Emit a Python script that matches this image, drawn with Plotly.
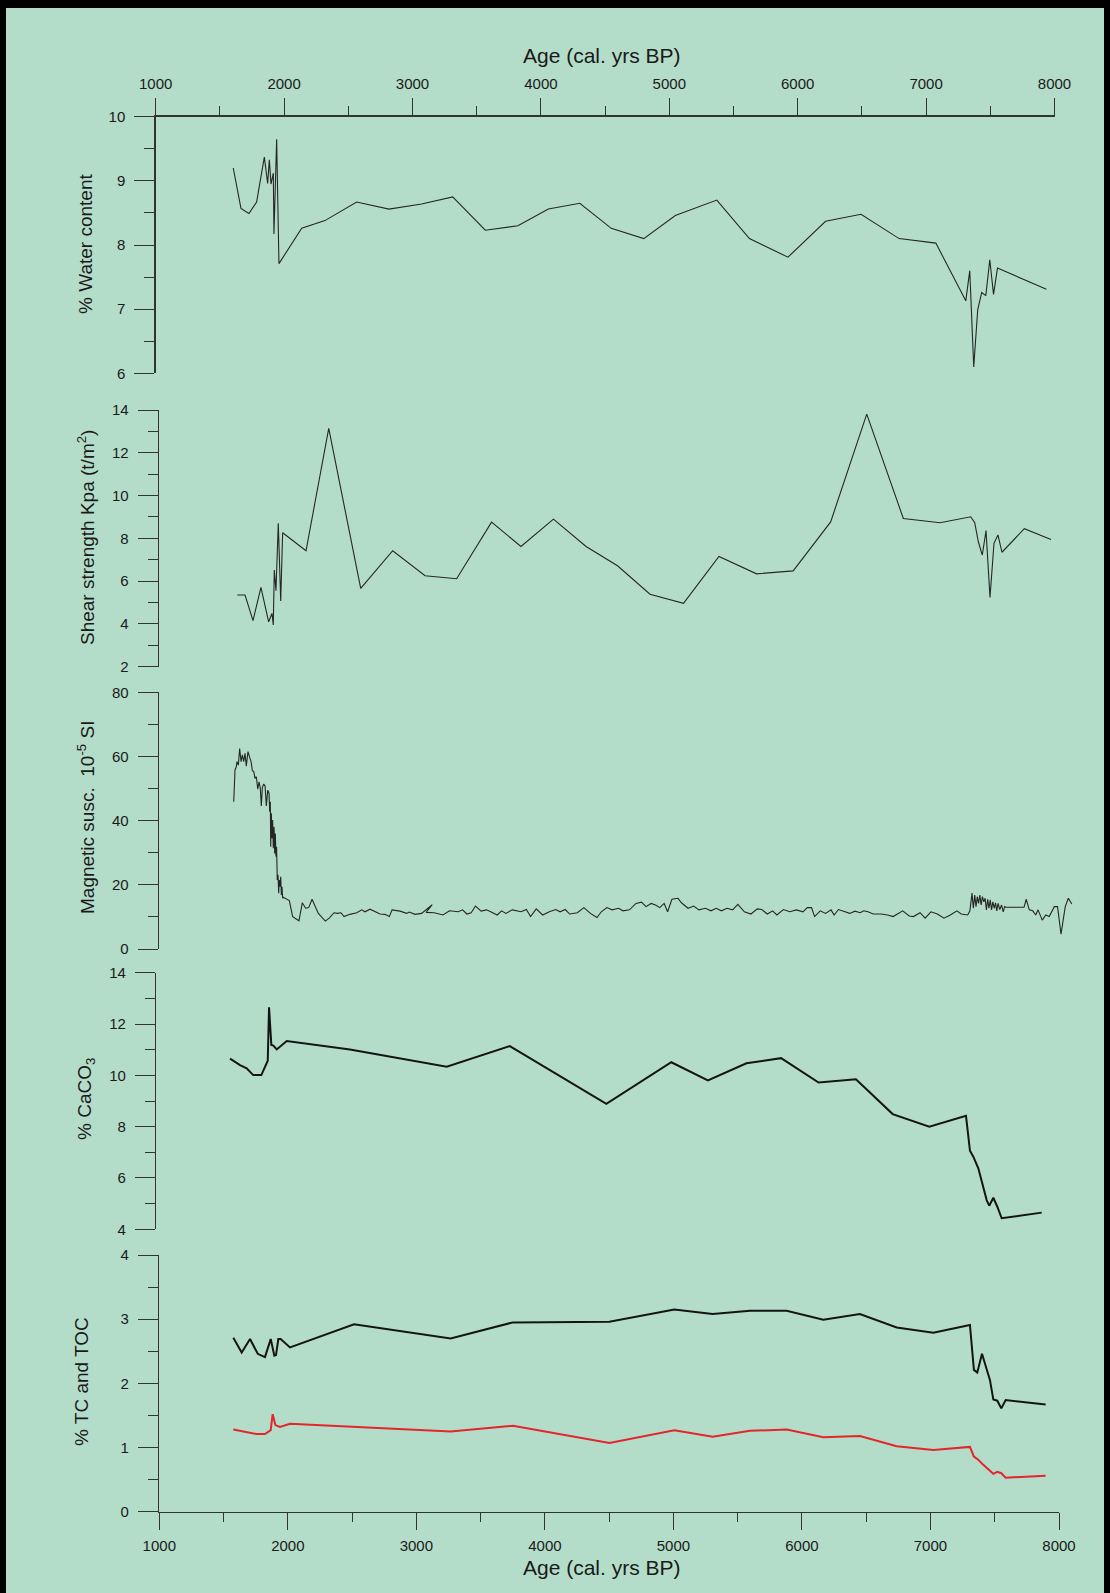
import plotly.graph_objects as go

# ---------------- data ----------------
water_age = [1604, 1664, 1726, 1786, 1846, 1872, 1885, 1898, 1916, 1921, 1942, 1960,
             2137, 2318, 2565, 2817, 3071, 3313, 3567, 3821, 4058, 4303, 4548, 4801,
             5047, 5370, 5624, 5924, 6217, 6493, 6790, 7076, 7309, 7340, 7371, 7402,
             7433, 7465, 7496, 7525, 7556, 7937]
water_pct = [9.20, 8.57, 8.49, 8.67, 9.37, 8.96, 9.33, 8.95, 9.12, 8.17, 9.65, 7.71,
             8.26, 8.38, 8.67, 8.56, 8.64, 8.75, 8.23, 8.30, 8.56, 8.65, 8.26, 8.10,
             8.46, 8.70, 8.10, 7.81, 8.37, 8.48, 8.10, 8.03, 7.13, 7.60, 6.10, 6.99,
             7.26, 7.21, 7.77, 7.23, 7.64, 7.31]

shear_age = [1610, 1670, 1732, 1794, 1854, 1880, 1890, 1898, 1911, 1929, 1948, 1963,
             2145, 2322, 2571, 2820, 3072, 3318, 3590, 3819, 4072, 4326, 4571, 4824,
             5085, 5361, 5654, 5939, 6231, 6512, 6797, 7083, 7322, 7353, 7381, 7412,
             7441, 7472, 7503, 7534, 7565, 7739, 7947]
shear_kpa = [5.35, 5.35, 4.15, 5.71, 4.10, 4.49, 3.95, 6.52, 5.55, 8.70, 5.07, 8.26,
             7.42, 13.14, 5.66, 7.42, 6.25, 6.11, 8.76, 7.62, 8.90, 7.62, 6.72, 5.39,
             4.96, 7.15, 6.34, 6.48, 8.77, 13.81, 8.93, 8.73, 9.01, 8.73, 7.84, 7.22,
             8.36, 5.24, 7.77, 8.16, 7.35, 8.45, 7.95]

magsus_age = [1582, 1592, 1602, 1607, 1618, 1628, 1639, 1649, 1660, 1670, 1680, 1693,
              1706, 1717, 1727, 1738, 1748, 1758, 1769, 1779, 1789, 1797, 1805, 1816,
              1826, 1836, 1847, 1857, 1862, 1867, 1870, 1875, 1880, 1885, 1890, 1896,
              1901, 1906, 1911, 1916, 1921, 1927, 1932, 1937, 1942, 1948, 1953, 1958,
              1963, 1968, 2015, 2041, 2090, 2116, 2142, 2166, 2192, 2241, 2295, 2326,
              2363, 2389, 2417, 2441, 2487, 2540, 2579, 2604, 2643, 2682, 2721, 2760,
              2794, 2815, 2877, 2929, 2949, 2994, 3045, 3128, 3080, 3144, 3212, 3262,
              3330, 3364, 3398, 3431, 3465, 3509, 3550, 3583, 3634, 3668, 3702, 3752,
              3820, 3861, 3894, 3938, 3988, 4040, 4090, 4124, 4164, 4198, 4258, 4309,
              4360, 4411, 4445, 4488, 4529, 4579, 4614, 4664, 4715, 4758, 4793, 4833,
              4867, 4900, 4934, 4961, 4995, 5042, 5069, 5120, 5164, 5205, 5255, 5299,
              5339, 5380, 5424, 5468, 5508, 5559, 5610, 5660, 5694, 5738, 5779, 5812,
              5863, 5913, 5964, 6015, 6049, 6082, 6106, 6150, 6191, 6234, 6258, 6292,
              6336, 6380, 6420, 6461, 6488, 6522, 6562, 6623, 6674, 6717, 6751, 6792,
              6843, 6876, 6927, 6967, 7012, 7062, 7113, 7163, 7214, 7248, 7298, 7315,
              7332, 7342, 7353, 7363, 7373, 7383, 7393, 7403, 7413, 7424, 7434, 7444,
              7454, 7464, 7474, 7484, 7494, 7505, 7515, 7525, 7535, 7548, 7562, 7575,
              7586, 7596, 7737, 7754, 7778, 7805, 7828, 7846, 7879, 7906, 7933, 7973,
              7998, 8025, 8058, 8082, 8109]
magsus_si = [45.9, 55.8, 56.8, 58.4, 57.3, 62.5, 58.4, 60.5, 58.4, 61.0, 57.0, 61.5,
             59.7, 58.4, 55.6, 55.3, 53.2, 53.7, 49.8, 52.1, 50.1, 44.6, 50.4, 51.4,
             50.8, 44.6, 49.5, 48.5, 42.8, 45.9, 31.9, 42.3, 34.5, 40.2, 31.4, 38.1,
             29.8, 36.0, 28.8, 31.9, 21.5, 23.1, 17.4, 21.5, 19.4, 22.5, 16.8, 19.4,
             15.8, 16.1, 15.1, 10.1, 8.8, 14.4, 12.7, 12.9, 15.5, 11.1, 8.7, 9.6,
             11.3, 11.1, 11.3, 10.1, 10.8, 11.3, 12.2, 11.6, 12.4, 11.6, 10.9, 10.8,
             10.1, 12.2, 11.8, 11.1, 11.5, 10.8, 11.1, 13.8, 11.4, 11.3, 10.6, 11.9,
             11.6, 12.2, 10.9, 11.3, 13.4, 11.8, 12.2, 11.6, 10.6, 11.9, 11.1, 12.2,
             11.6, 12.3, 10.1, 12.5, 10.6, 11.6, 12.3, 11.6, 12.3, 10.9, 11.3, 12.9,
             11.1, 9.8, 11.6, 12.9, 12.2, 12.7, 11.9, 12.2, 14.2, 14.6, 13.2, 14.2,
             13.7, 12.9, 14.2, 11.6, 15.5, 15.8, 14.4, 12.7, 13.4, 12.2, 12.7, 11.9,
             12.7, 11.9, 12.7, 12.2, 13.9, 11.6, 10.9, 12.5, 12.3, 10.9, 11.9, 10.6,
             12.3, 11.6, 12.2, 11.6, 12.9, 12.9, 10.1, 11.9, 11.1, 12.2, 10.6, 12.3,
             11.6, 11.1, 11.8, 11.3, 11.9, 11.6, 10.9, 10.9, 10.6, 10.1, 10.9, 11.9,
             10.3, 10.1, 11.3, 9.6, 11.6, 10.9, 9.6, 10.6, 11.9, 10.9, 10.6, 11.8,
             17.4, 12.7, 16.8, 13.2, 16.3, 14.2, 16.8, 13.7, 16.3, 14.7, 15.8, 12.2,
             15.5, 12.7, 15.3, 12.2, 14.7, 12.7, 14.4, 11.9, 14.2, 12.3, 13.7, 11.6,
             13.2, 13.0, 13.0, 15.5, 12.2, 11.9, 10.6, 12.2, 9.0, 10.6, 10.1, 13.2,
             13.2, 4.6, 13.2, 15.8, 14.0]

caco3_age = [1574, 1652, 1704, 1755, 1818, 1868, 1878, 1896, 1912, 1938, 2016, 2508,
             3262, 3753, 4505, 5011, 5296, 5596, 5866, 6158, 6449, 6735, 7020, 7306,
             7337, 7363, 7402, 7467, 7487, 7519, 7550, 7584, 7896]
caco3_pct = [10.65, 10.40, 10.27, 10.01, 10.01, 10.57, 12.65, 11.18, 11.16, 11.01, 11.34, 11.01,
             10.34, 11.14, 8.89, 10.51, 9.80, 10.47, 10.67, 9.72, 9.85, 8.49, 8.00, 8.42,
             7.06, 6.83, 6.38, 5.14, 4.92, 5.23, 4.88, 4.43, 4.65]

tc_age = [1576, 1641, 1706, 1766, 1822, 1867, 1895, 1908, 1926, 1944, 2017, 2515,
          3267, 3751, 4502, 5007, 5305, 5596, 5881, 6166, 6451, 6737, 7022, 7307,
          7338, 7364, 7401, 7432, 7463, 7489, 7520, 7551, 7585, 7896]
tc_pct = [2.71, 2.48, 2.69, 2.46, 2.41, 2.69, 2.43, 2.44, 2.69, 2.69, 2.56, 2.92,
          2.70, 2.95, 2.96, 3.15, 3.08, 3.13, 3.13, 2.99, 3.08, 2.87, 2.79, 2.91,
          2.21, 2.17, 2.46, 2.26, 2.05, 1.75, 1.73, 1.61, 1.74, 1.67]

toc_age = [1576, 1654, 1758, 1822, 1867, 1882, 1903, 1939, 2017, 3267, 3751, 4502,
           5007, 5305, 5596, 5881, 6166, 6451, 6737, 7022, 7307, 7338, 7372, 7411,
           7489, 7520, 7551, 7585, 7896]
toc_pct = [1.28, 1.25, 1.21, 1.21, 1.27, 1.52, 1.35, 1.32, 1.37, 1.25, 1.34, 1.07,
           1.27, 1.17, 1.26, 1.28, 1.16, 1.18, 1.02, 0.96, 1.01, 0.86, 0.81, 0.73,
           0.59, 0.62, 0.60, 0.53, 0.56]

age_ticks = [1000, 2000, 3000, 4000, 5000, 6000, 7000, 8000]

# ---------------- page geometry (pixels) ----------------
W, H = 1110, 1593
BG = "#b4ddc9"
AXC = "#333333"
FONT = "Liberation Sans, Arial, Helvetica, sans-serif"
TXT = "#1a1a1a"


def fx(p):
    return p / W


def fy(p):
    return 1 - p / H


# each panel: left px (age 1000), right px, top px, bottom px
panels = [
    dict(left=155.7, right=1054.5, top=116.7, bottom=373.3, yr=[6, 10], dt=1, mdt=0.5, full=True),
    dict(left=159.0, right=1100.0, top=410.0, bottom=666.7, yr=[2, 14], dt=2, mdt=1, full=False),
    dict(left=159.0, right=1100.0, top=692.3, bottom=949.0, yr=[0, 80], dt=20, mdt=10, full=False),
    dict(left=156.3, right=1100.0, top=972.7, bottom=1229.3, yr=[4, 14], dt=2, mdt=1, full=False),
    dict(left=159.3, right=1059.0, top=1255.0, bottom=1511.7, yr=[0, 4], dt=1, mdt=0.5, full=True),
]
PX_PER_YR = 0.1284

fig = go.Figure()

series = [
    (1, water_age, water_pct, "#262626", 1.1),
    (2, shear_age, shear_kpa, "#262626", 1.1),
    (3, magsus_age, magsus_si, "#262626", 1.1),
    (4, caco3_age, caco3_pct, "#141414", 2.0),
    (5, tc_age, tc_pct, "#141414", 2.0),
    (5, toc_age, toc_pct, "#e3262b", 2.0),
]
for k, xs, ys, col, w in series:
    sfx = "" if k == 1 else str(k)
    fig.add_trace(go.Scatter(x=xs, y=ys, mode="lines", xaxis="x" + sfx, yaxis="y" + sfx,
                             line=dict(color=col, width=w), showlegend=False,
                             hoverinfo="skip"))

tickfont = dict(family=FONT, size=15, color=TXT)
layout = {}
for i, p in enumerate(panels, start=1):
    sfx = "" if i == 1 else str(i)
    if p["full"]:
        xr = [1000, 8000]
    else:
        xr = [1000, 1000 + (p["right"] - p["left"]) / PX_PER_YR]
    xa = dict(domain=[fx(p["left"]), fx(p["right"])], range=xr, anchor="y" + sfx,
              showgrid=False, zeroline=False, fixedrange=True, automargin=False)
    if i == 1 or i == 5:
        xa.update(visible=True, side="top" if i == 1 else "bottom", showline=True,
                  linecolor=AXC, linewidth=1.4, ticks="outside", ticklen=17,
                  tickwidth=1, tickcolor=AXC, tickvals=age_ticks,
                  tickfont=tickfont, ticklabelstandoff=3,
                  minor=dict(ticks="outside", ticklen=9, dtick=500, tick0=1000,
                             tickwidth=1, tickcolor=AXC))
    else:
        xa.update(visible=False)
    layout["xaxis" + sfx] = xa
    layout["yaxis" + sfx] = dict(
        domain=[fy(p["bottom"]), fy(p["top"])], range=p["yr"], anchor="x" + sfx,
        showgrid=False, zeroline=False, showline=True, linecolor=AXC, linewidth=1.4,
        ticks="outside", ticklen=20, tickwidth=1, tickcolor=AXC,
        dtick=p["dt"], tick0=p["yr"][0], tickfont=tickfont, ticklabelstandoff=6,
        minor=dict(ticks="outside", ticklen=10, dtick=p["mdt"], tick0=p["yr"][0],
                   tickwidth=1, tickcolor=AXC),
        fixedrange=True, automargin=False)

titles = [
    ("% Water content", 85, 244),
    ("Shear strength Kpa (t/m<sup>2</sup>)", 86, 538),
    ("Magnetic susc.  10<sup>-5</sup> SI", 86, 818),
    ("% CaCO<sub>3</sub>", 86, 1099),
    ("% TC and TOC", 81, 1382),
]
annotations = []
for text, x, y in titles:
    annotations.append(dict(text=text, x=fx(x), y=fy(y), xref="paper", yref="paper",
                            xanchor="center", yanchor="middle", textangle=-90,
                            showarrow=False, font=dict(family=FONT, size=19, color=TXT)))
for y in (55, 1567):
    annotations.append(dict(text="Age (cal. yrs BP)", x=fx(602), y=fy(y), xref="paper",
                            yref="paper", xanchor="center", yanchor="middle",
                            showarrow=False, font=dict(family=FONT, size=21, color=TXT)))

# dark frame along the top and the two sides
frame = [
    dict(x0=0, x1=W, y0=0, y1=8),
    dict(x0=0, x1=6, y0=0, y1=H),
    dict(x0=W - 6, x1=W, y0=0, y1=H),
]
shapes = [dict(type="rect", xref="paper", yref="paper", x0=fx(f["x0"]), x1=fx(f["x1"]),
               y0=fy(f["y1"]), y1=fy(f["y0"]), fillcolor="#000000", line=dict(width=0),
               layer="above") for f in frame]

fig.update_layout(width=W, height=H, autosize=False,
                  margin=dict(l=0, r=0, t=0, b=0, pad=0, autoexpand=False),
                  paper_bgcolor=BG, plot_bgcolor=BG, showlegend=False,
                  annotations=annotations, shapes=shapes, **layout)

fig.write_html("out.html", config={"displayModeBar": False, "staticPlot": True},
               post_script="document.body.style.margin='0';"
                           "document.body.style.overflow='hidden';")
